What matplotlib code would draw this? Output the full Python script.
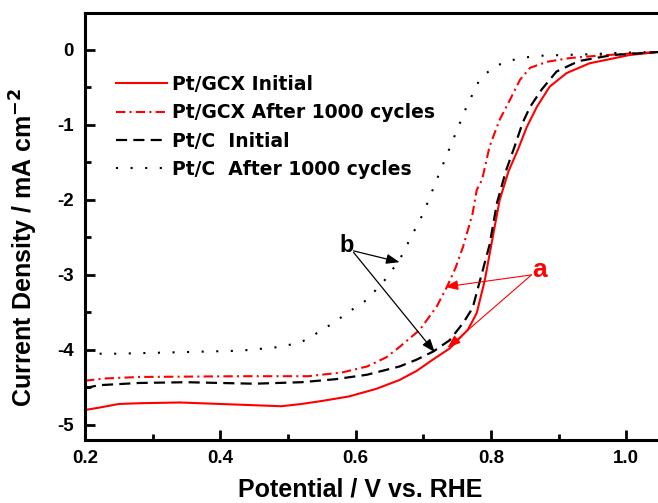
'''
ORR polarisation curves, Pt/GCX vs Pt/C
before and after 1000 cycles
'''

######################################

import matplotlib
matplotlib.use('Agg')
import matplotlib.pyplot as plt
from matplotlib.ticker import MultipleLocator

######################################

# Pt/GCX Initial (solid red)
gcxInitX=[0.20,0.22,0.25,0.28,0.34,0.40,0.43,0.49,0.52,0.55,0.59,0.63,0.665,0.69,0.714,0.739,
          0.766,0.779,0.791,0.801,0.813,0.826,0.840,0.853,0.868,0.887,0.912,0.946,1.005,1.047]
gcxInitY=[-4.80,-4.77,-4.72,-4.71,-4.70,-4.72,-4.73,-4.75,-4.72,-4.68,-4.62,-4.52,-4.40,-4.28,-4.13,-3.98,
          -3.73,-3.51,-3.07,-2.58,-2.00,-1.62,-1.33,-1.03,-0.76,-0.49,-0.31,-0.18,-0.07,-0.03]

# Pt/GCX After 1000 cycles (dash-dot red)
gcxCycX=[0.20,0.23,0.28,0.43,0.53,0.58,0.617,0.645,0.665,0.695,0.72,0.735,0.748,0.759,0.773,0.779,
         0.787,0.798,0.813,0.828,0.843,0.858,0.883,0.917,0.957,1.005,1.047]
gcxCycY=[-4.41,-4.38,-4.36,-4.35,-4.35,-4.30,-4.22,-4.10,-3.96,-3.73,-3.42,-3.16,-2.90,-2.62,-2.18,-1.87,
         -1.73,-1.29,-0.93,-0.67,-0.40,-0.24,-0.16,-0.11,-0.08,-0.05,-0.03]

# Pt/C Initial (dashed black)
ptcInitX=[0.20,0.22,0.28,0.35,0.45,0.52,0.57,0.617,0.665,0.69,0.715,0.739,0.759,0.773,0.784,0.798,
          0.809,0.822,0.835,0.847,0.858,0.875,0.897,0.93,0.98,1.047]
ptcInitY=[-4.51,-4.47,-4.44,-4.43,-4.45,-4.43,-4.39,-4.33,-4.22,-4.13,-4.02,-3.87,-3.64,-3.44,-3.07,-2.60,
          -2.04,-1.62,-1.29,-0.97,-0.76,-0.53,-0.29,-0.15,-0.07,-0.03]

# Pt/C After 1000 cycles (dotted black)
ptcCycX=[0.20,0.25,0.34,0.43,0.488,0.518,0.532,0.552,0.566,0.587,0.617,0.643,0.665,0.68,0.70,0.72,
         0.744,0.764,0.781,0.791,0.806,0.823,0.843,0.872,0.906,0.946,0.991,1.047]
ptcCycY=[-4.05,-4.05,-4.03,-4.01,-3.96,-3.90,-3.84,-3.72,-3.65,-3.51,-3.33,-3.07,-2.80,-2.53,-2.18,-1.73,
         -1.20,-0.76,-0.44,-0.33,-0.22,-0.16,-0.11,-0.08,-0.07,-0.06,-0.04,-0.03]

labels=['Pt/GCX Initial','Pt/GCX After 1000 cycles','Pt/C  Initial','Pt/C  After 1000 cycles']
xTicks=[0.2,0.4,0.6,0.8,1.0]
xTickLabels=['0.2','0.4','0.6','0.8','1.0']

######################################

plt.rcParams['font.family']=['Liberation Sans','DejaVu Sans']
plt.rcParams['font.weight']='bold'
plt.rcParams['axes.unicode_minus']=False
plt.rcParams['mathtext.default']='bf'

fig=plt.figure(figsize=(6.58,5.03),dpi=100)
ax=fig.add_axes([85/658,1-440/503,1-85/658,427/503])

ax.plot(gcxInitX,gcxInitY,color='#ff0000',lw=1.5,ls='-',label=labels[0])
ax.plot(gcxCycX,gcxCycY,color='#ff0000',lw=1.5,ls=(0,(4.5,2,1,2)),label=labels[1])
ax.plot(ptcInitX,ptcInitY,color='black',lw=1.6,ls=(0,(5,2.8)),label=labels[2])
ax.plot(ptcCycX,ptcCycY,color='black',lw=1.5,ls=(0,(1,6)),label=labels[3])

ax.set_xlim(0.2,1.047)
ax.set_ylim(-5.2,0.49)
ax.set_xticks(xTicks)
ax.set_xticklabels(xTickLabels)
ax.xaxis.set_minor_locator(MultipleLocator(0.1))
ax.yaxis.set_major_locator(MultipleLocator(1))
ax.yaxis.set_minor_locator(MultipleLocator(0.5))

# axes styling
for s in ['left','bottom','top']:
  ax.spines[s].set_linewidth(2.2)
ax.spines['right'].set_visible(False)
ax.tick_params(which='both',direction='in',width=2,labelsize=13.5)
ax.tick_params(axis='x',pad=7)
ax.tick_params(axis='y',pad=8)
ax.tick_params(which='major',length=7)
ax.tick_params(which='minor',length=4)
for t in ax.get_xticklabels()+ax.get_yticklabels():
  t.set_fontweight('bold')

ax.set_xlabel('Potential / V vs. RHE',fontsize=18,fontweight='bold')
ax.set_ylabel('Current Density / mA cm$^{-2}$',fontsize=18,fontweight='bold')
ax.xaxis.set_label_coords(0.48,-0.088)
ax.yaxis.set_label_coords(-0.078,0.452)

leg=ax.legend(loc='upper left',bbox_to_anchor=(0.054,0.855),frameon=False,borderaxespad=0,
              borderpad=0,prop={'family':'DejaVu Sans','weight':'bold','size':13.5},
              handlelength=2.7,handletextpad=0.3,labelspacing=0.5)

# annotations
ax.text(0.587,-2.61,'b',fontsize=17,fontweight='bold',ha='center',va='center')
arrowB=dict(arrowstyle='-|>,head_length=0.8,head_width=0.3',color='black',lw=0.9,shrinkA=0,shrinkB=0)
ax.annotate('',xy=(0.665,-2.83),xytext=(0.597,-2.68),arrowprops=arrowB)
ax.annotate('',xy=(0.717,-4.03),xytext=(0.597,-2.70),arrowprops=arrowB)

ax.text(0.872,-2.93,'a',fontsize=19,fontweight='bold',color='#ff0000',ha='center',va='center')
arrowA=dict(arrowstyle='-|>,head_length=0.8,head_width=0.3',color='#ff0000',lw=0.8,shrinkA=0,shrinkB=0)
ax.annotate('',xy=(0.732,-3.16),xytext=(0.860,-3.0),arrowprops=arrowA)
ax.annotate('',xy=(0.736,-3.97),xytext=(0.860,-3.0),arrowprops=arrowA)

fig.savefig('out.png',dpi=100)
